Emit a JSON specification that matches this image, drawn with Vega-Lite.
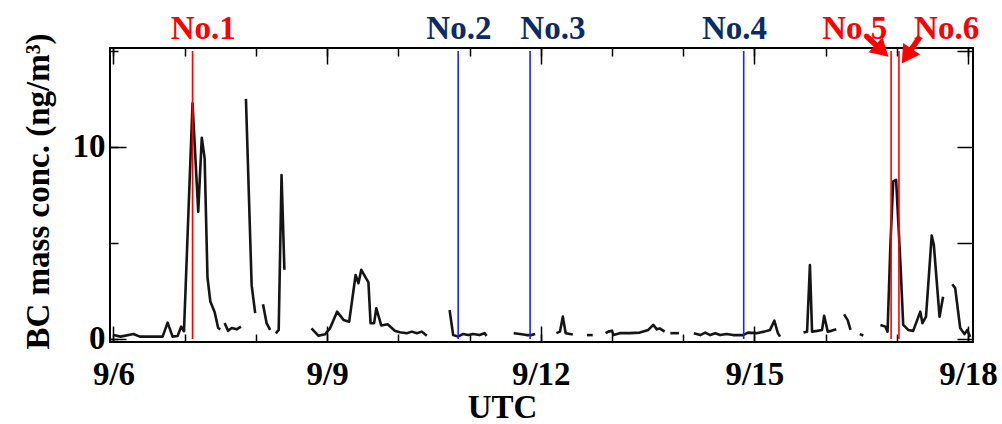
{
  "$schema": "https://vega.github.io/schema/vega-lite/v6.json",
  "width": 863,
  "height": 294,
  "autosize": "none",
  "padding": {"left": 110, "top": 48, "right": 29, "bottom": 82},
  "background": "white",
  "config": {
    "view": {"stroke": "black", "strokeWidth": 2},
    "font": "Liberation Serif",
    "axis": {
      "grid": false,
      "domain": false,
      "labelFont": "Liberation Serif",
      "labelFontWeight": "bold",
      "labelFontSize": 33,
      "labelColor": "black",
      "tickColor": "black",
      "tickWidth": 1.5,
      "titleFont": "Liberation Serif",
      "titleFontWeight": "bold",
      "titleFontSize": 33,
      "titleColor": "black"
    }
  },
  "datasets": {
    "bc": [
      {"seg": 1, "day": 6.00, "bc": 0.2}, {"seg": 1, "day": 6.10, "bc": 0.12}, {"seg": 1, "day": 6.28, "bc": 0.26}, {"seg": 1, "day": 6.37, "bc": 0.12}, {"seg": 1, "day": 6.69, "bc": 0.12}, {"seg": 1, "day": 6.76, "bc": 0.85}, {"seg": 1, "day": 6.83, "bc": 0.12}, {"seg": 1, "day": 6.90, "bc": 0.15}, {"seg": 1, "day": 6.95, "bc": 0.64}, {"seg": 1, "day": 6.99, "bc": 0.4}, {"seg": 1, "day": 7.11, "bc": 12.27}, {"seg": 1, "day": 7.19, "bc": 6.63}, {"seg": 1, "day": 7.24, "bc": 10.48}, {"seg": 1, "day": 7.28, "bc": 9.4}, {"seg": 1, "day": 7.32, "bc": 3.2}, {"seg": 1, "day": 7.36, "bc": 1.95}, {"seg": 1, "day": 7.42, "bc": 1.4}, {"seg": 1, "day": 7.47, "bc": 0.57}, {"seg": 1, "day": 7.50, "bc": 0.5},
      {"seg": 2, "day": 7.56, "bc": 0.83}, {"seg": 2, "day": 7.61, "bc": 0.42}, {"seg": 2, "day": 7.66, "bc": 0.57}, {"seg": 2, "day": 7.73, "bc": 0.5}, {"seg": 2, "day": 7.79, "bc": 0.64},
      {"seg": 3, "day": 7.86, "bc": 12.5}, {"seg": 3, "day": 7.94, "bc": 2.8}, {"seg": 3, "day": 7.99, "bc": 1.34},
      {"seg": 4, "day": 8.10, "bc": 1.8}, {"seg": 4, "day": 8.15, "bc": 0.82}, {"seg": 4, "day": 8.20, "bc": 0.47},
      {"seg": 5, "day": 8.28, "bc": 0.29}, {"seg": 5, "day": 8.32, "bc": 0.47}, {"seg": 5, "day": 8.36, "bc": 8.54}, {"seg": 5, "day": 8.40, "bc": 3.6},
      {"seg": 6, "day": 8.78, "bc": 0.55}, {"seg": 6, "day": 8.88, "bc": 0.16}, {"seg": 6, "day": 8.97, "bc": 0.24}, {"seg": 6, "day": 9.04, "bc": 0.55}, {"seg": 6, "day": 9.14, "bc": 1.42}, {"seg": 6, "day": 9.23, "bc": 0.99}, {"seg": 6, "day": 9.31, "bc": 0.9}, {"seg": 6, "day": 9.40, "bc": 3.33}, {"seg": 6, "day": 9.44, "bc": 2.9}, {"seg": 6, "day": 9.48, "bc": 3.6}, {"seg": 6, "day": 9.58, "bc": 2.95}, {"seg": 6, "day": 9.61, "bc": 0.82}, {"seg": 6, "day": 9.66, "bc": 0.82}, {"seg": 6, "day": 9.69, "bc": 1.6}, {"seg": 6, "day": 9.76, "bc": 0.7}, {"seg": 6, "day": 9.85, "bc": 0.76}, {"seg": 6, "day": 9.95, "bc": 0.43}, {"seg": 6, "day": 10.02, "bc": 0.35}, {"seg": 6, "day": 10.12, "bc": 0.3}, {"seg": 6, "day": 10.19, "bc": 0.38}, {"seg": 6, "day": 10.26, "bc": 0.3}, {"seg": 6, "day": 10.33, "bc": 0.38}, {"seg": 6, "day": 10.40, "bc": 0.16},
      {"seg": 7, "day": 10.72, "bc": 1.5}, {"seg": 7, "day": 10.77, "bc": 0.2}, {"seg": 7, "day": 10.84, "bc": 0.12}, {"seg": 7, "day": 10.91, "bc": 0.26}, {"seg": 7, "day": 10.98, "bc": 0.2}, {"seg": 7, "day": 11.05, "bc": 0.26}, {"seg": 7, "day": 11.14, "bc": 0.2}, {"seg": 7, "day": 11.21, "bc": 0.3}, {"seg": 7, "day": 11.24, "bc": 0.16},
      {"seg": 8, "day": 11.62, "bc": 0.3}, {"seg": 8, "day": 11.71, "bc": 0.26}, {"seg": 8, "day": 11.80, "bc": 0.2}, {"seg": 8, "day": 11.87, "bc": 0.2}, {"seg": 8, "day": 11.92, "bc": 0.26},
      {"seg": 9, "day": 12.22, "bc": 0.3}, {"seg": 9, "day": 12.27, "bc": 0.38}, {"seg": 9, "day": 12.31, "bc": 1.16}, {"seg": 9, "day": 12.35, "bc": 0.3}, {"seg": 9, "day": 12.41, "bc": 0.26}, {"seg": 9, "day": 12.45, "bc": 0.23},
      {"seg": 10, "day": 12.65, "bc": 0.2}, {"seg": 10, "day": 12.73, "bc": 0.2},
      {"seg": 11, "day": 12.91, "bc": 0.3}, {"seg": 11, "day": 12.95, "bc": 0.38}, {"seg": 11, "day": 13.00, "bc": 0.43}, {"seg": 11, "day": 13.02, "bc": 0.2}, {"seg": 11, "day": 13.11, "bc": 0.3}, {"seg": 11, "day": 13.25, "bc": 0.3}, {"seg": 11, "day": 13.39, "bc": 0.33}, {"seg": 11, "day": 13.51, "bc": 0.47}, {"seg": 11, "day": 13.58, "bc": 0.73}, {"seg": 11, "day": 13.63, "bc": 0.5}, {"seg": 11, "day": 13.67, "bc": 0.55}, {"seg": 11, "day": 13.74, "bc": 0.38},
      {"seg": 12, "day": 13.82, "bc": 0.3}, {"seg": 12, "day": 13.94, "bc": 0.3},
      {"seg": 13, "day": 14.15, "bc": 0.3}, {"seg": 13, "day": 14.24, "bc": 0.2}, {"seg": 13, "day": 14.31, "bc": 0.33}, {"seg": 13, "day": 14.38, "bc": 0.2}, {"seg": 13, "day": 14.45, "bc": 0.3}, {"seg": 13, "day": 14.52, "bc": 0.2}, {"seg": 13, "day": 14.61, "bc": 0.26}, {"seg": 13, "day": 14.70, "bc": 0.2}, {"seg": 13, "day": 14.84, "bc": 0.2}, {"seg": 13, "day": 14.91, "bc": 0.33}, {"seg": 13, "day": 15.03, "bc": 0.3}, {"seg": 13, "day": 15.14, "bc": 0.38}, {"seg": 13, "day": 15.22, "bc": 0.47}, {"seg": 13, "day": 15.28, "bc": 0.95}, {"seg": 13, "day": 15.33, "bc": 0.3}, {"seg": 13, "day": 15.36, "bc": 0.12},
      {"seg": 14, "day": 15.69, "bc": 0.33}, {"seg": 14, "day": 15.74, "bc": 0.38}, {"seg": 14, "day": 15.78, "bc": 3.85}, {"seg": 14, "day": 15.81, "bc": 0.38}, {"seg": 14, "day": 15.88, "bc": 0.42}, {"seg": 14, "day": 15.95, "bc": 0.47}, {"seg": 14, "day": 15.98, "bc": 1.21}, {"seg": 14, "day": 16.03, "bc": 0.38}, {"seg": 14, "day": 16.08, "bc": 0.42}, {"seg": 14, "day": 16.15, "bc": 0.5},
      {"seg": 15, "day": 16.26, "bc": 1.28}, {"seg": 15, "day": 16.31, "bc": 0.98}, {"seg": 15, "day": 16.35, "bc": 0.47},
      {"seg": 16, "day": 16.48, "bc": 0.25}, {"seg": 16, "day": 16.53, "bc": 0.18},
      {"seg": 17, "day": 16.77, "bc": 0.73}, {"seg": 17, "day": 16.84, "bc": 0.64}, {"seg": 17, "day": 16.87, "bc": 0.38}, {"seg": 17, "day": 16.91, "bc": 4.9}, {"seg": 17, "day": 16.95, "bc": 8.2}, {"seg": 17, "day": 16.99, "bc": 8.28}, {"seg": 17, "day": 17.05, "bc": 4.0}, {"seg": 17, "day": 17.09, "bc": 0.73}, {"seg": 17, "day": 17.16, "bc": 0.47}, {"seg": 17, "day": 17.23, "bc": 0.42}, {"seg": 17, "day": 17.33, "bc": 1.42}, {"seg": 17, "day": 17.36, "bc": 0.82}, {"seg": 17, "day": 17.41, "bc": 1.16}, {"seg": 17, "day": 17.49, "bc": 5.38}, {"seg": 17, "day": 17.52, "bc": 4.9}, {"seg": 17, "day": 17.60, "bc": 1.16}, {"seg": 17, "day": 17.65, "bc": 2.2},
      {"seg": 18, "day": 17.78, "bc": 2.85}, {"seg": 18, "day": 17.82, "bc": 2.64}, {"seg": 18, "day": 17.89, "bc": 0.57}, {"seg": 18, "day": 17.95, "bc": 0.25}, {"seg": 18, "day": 17.99, "bc": 0.47}, {"seg": 18, "day": 18.03, "bc": 0.1}
    ],
    "events": [
      {"label": "No.1", "day": 7.11, "type": "red"},
      {"label": "No.2", "day": 10.84, "type": "blue"},
      {"label": "No.3", "day": 11.85, "type": "blue"},
      {"label": "No.4", "day": 14.85, "type": "blue"},
      {"label": "No.5", "day": 16.92, "type": "red"},
      {"label": "No.6", "day": 17.03, "type": "red"}
    ],
    "labels": [
      {"label": "No.1", "day": 7.26, "type": "red"},
      {"label": "No.2", "day": 10.85, "type": "blue"},
      {"label": "No.3", "day": 12.17, "type": "blue"},
      {"label": "No.4", "day": 14.72, "type": "blue"},
      {"label": "No.5", "day": 16.41, "type": "red"},
      {"label": "No.6", "day": 17.70, "type": "red"}
    ],
    "arrows": [
      {"label": "No.5", "day": 16.578, "bc": 15.745, "day2": 16.792, "bc2": 15.01},
      {"label": "No.6", "day": 17.327, "bc": 15.745, "day2": 17.139, "bc2": 14.73}
    ]
  },
  "resolve": {
    "axis": {"x": "independent", "y": "independent"},
    "scale": {"color": "independent"}
  },
  "layer": [
    {
      "data": {"name": "bc"},
      "mark": {"type": "line", "color": "#151515", "strokeWidth": 2.6, "strokeJoin": "round"},
      "encoding": {
        "x": {
          "field": "day", "type": "quantitative",
          "scale": {"domain": [5.951, 18.07], "nice": false, "zero": false},
          "axis": {"orient": "bottom", "values": [6, 9, 12, 15, 18], "tickSize": -16, "labelPadding": 32, "labelFlush": false, "labelOverlap": false, "labelExpr": "'9/' + datum.value", "title": "UTC", "titlePadding": 0, "titleX": 392}
        },
        "y": {
          "field": "bc", "type": "quantitative",
          "scale": {"domain": [-0.16, 15.15], "nice": false, "zero": false},
          "axis": {"orient": "left", "values": [0, 10], "tickSize": -16, "labelPadding": 21, "labelFlush": false, "labelOverlap": false, "title": "BC mass conc. (ng/m³)", "titlePadding": 17, "titleY": 143}
        },
        "detail": {"field": "seg"}
      }
    },
    {
      "data": {"name": "events"},
      "mark": {"type": "rule", "strokeWidth": 1.6},
      "encoding": {
        "x": {
          "field": "day", "type": "quantitative",
          "scale": {"domain": [5.951, 18.07], "nice": false, "zero": false},
          "axis": {"orient": "bottom", "values": [6, 7, 8, 9, 10, 11, 12, 13, 14, 15, 16, 17, 18], "tickSize": -8, "labels": false, "title": null}
        },
        "y": {
          "datum": 0, "type": "quantitative",
          "scale": {"domain": [-0.16, 15.15], "nice": false, "zero": false},
          "axis": {"orient": "left", "values": [0, 5, 10, 15], "tickSize": -8, "labels": false, "title": null}
        },
        "y2": {"datum": 15},
        "color": {"field": "type", "type": "nominal", "scale": {"domain": ["red", "blue"], "range": ["#ff0000", "#2020ff"]}, "legend": null}
      }
    },
    {
      "data": {"name": "labels"},
      "mark": {"type": "text", "font": "Liberation Serif", "fontSize": 33, "fontWeight": "bold", "align": "center", "baseline": "middle"},
      "encoding": {
        "x": {
          "field": "day", "type": "quantitative",
          "scale": {"domain": [5.951, 18.07], "nice": false, "zero": false},
          "axis": {"orient": "top", "values": [6, 9, 12, 15, 18], "tickSize": -16, "labels": false, "title": null}
        },
        "y": {
          "datum": 16.15, "type": "quantitative",
          "scale": {"domain": [-0.16, 15.15], "nice": false, "zero": false},
          "axis": {"orient": "right", "values": [0, 5, 10, 15], "tickSize": -16, "labels": false, "title": null}
        },
        "text": {"field": "label"},
        "color": {"field": "type", "type": "nominal", "scale": {"domain": ["red", "blue"], "range": ["#ff0000", "#0d2b63"]}, "legend": null}
      }
    },
    {
      "data": {"name": "arrows"},
      "mark": {"type": "rule", "color": "#ff0000", "strokeWidth": 5.5},
      "encoding": {
        "x": {
          "field": "day", "type": "quantitative",
          "scale": {"domain": [5.951, 18.07], "nice": false, "zero": false},
          "axis": {"orient": "top", "values": [6, 7, 8, 9, 10, 11, 12, 13, 14, 15, 16, 17, 18], "tickSize": -8, "labels": false, "title": null}
        },
        "y": {
          "field": "bc", "type": "quantitative",
          "scale": {"domain": [-0.16, 15.15], "nice": false, "zero": false},
          "axis": null
        },
        "x2": {"field": "day2"},
        "y2": {"field": "bc2"}
      }
    },
    {
      "data": {"name": "arrows"},
      "mark": {"type": "point", "shape": "triangle-up", "filled": true, "color": "#ff0000", "opacity": 1, "size": 420},
      "encoding": {
        "x": {
          "field": "day2", "type": "quantitative",
          "scale": {"domain": [5.951, 18.07], "nice": false, "zero": false},
          "axis": null
        },
        "y": {
          "field": "bc2", "type": "quantitative",
          "scale": {"domain": [-0.16, 15.15], "nice": false, "zero": false},
          "axis": null
        },
        "angle": {"condition": {"test": "datum.label === 'No.5'", "value": 133}, "value": 214}
      }
    }
  ]
}
